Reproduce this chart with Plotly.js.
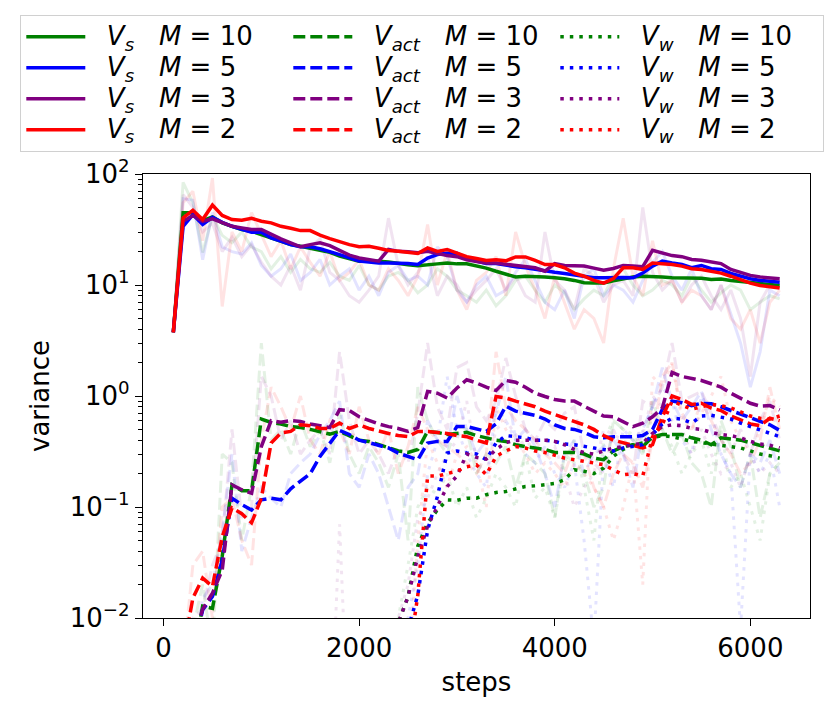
<!DOCTYPE html>
<html>
<head>
<meta charset="utf-8">
<script src="https://cdn.plot.ly/plotly-3.0.1.min.js"></script>
<style>
  html, body { margin: 0; padding: 0; background: #fff; }
  #chart { width: 831px; height: 717px; }
</style>
</head>
<body>
<div id="chart"></div>
<script>
// training steps where the variances were logged
const steps = [
  100, 200, 300, 400, 500, 600, 700, 800, 900, 1000,
  1100, 1200, 1300, 1400, 1500, 1600, 1700, 1800, 1900, 2000,
  2100, 2200, 2300, 2400, 2500, 2600, 2700, 2800, 2900, 3000,
  3100, 3200, 3300, 3400, 3500, 3600, 3700, 3800, 3900, 4000,
  4100, 4200, 4300, 4400, 4500, 4600, 4700, 4800, 4900, 5000,
  5100, 5200, 5300, 5400, 5500, 5600, 5700, 5800, 5900, 6000,
  6100, 6200, 6300
];

// ---- smoothed V_s ----
const vsM10 = [
  3.75, 44.7, 44.7, 38.1, 41.1, 36.3, 33.8, 31.6, 30.5, 28.5,
  26.6, 24.8, 23.1, 22.3, 21.4, 20.5, 19.7, 18.2, 17.3, 16.4,
  16.4, 16.4, 16.1, 15.5, 15.2, 14.9, 15.3, 15.5, 15.8, 15.5,
  15.5, 14.8, 14.2, 13.3, 12.5, 11.8, 12.0, 12.0, 11.8, 11.6,
  11.4, 11.0, 10.5, 10.4, 10.4, 10.9, 11.3, 11.8, 12.0, 12.0,
  11.8, 11.6, 11.6, 11.6, 11.5, 11.2, 11.3, 11.0, 10.8, 10.6,
  10.3, 10.1, 9.9
];
const vsM5 = [
  3.75, 33.8, 43.1, 35.1, 40.8, 36.7, 33.8, 31.6, 29.9, 29.9,
  26.6, 24.8, 23.1, 22.1, 22.1, 21.2, 20.1, 18.8, 17.6, 16.4,
  16.1, 15.8, 15.8, 15.8, 15.6, 15.3, 17.5, 18.8, 19.3, 19.3,
  17.5, 16.4, 15.6, 15.6, 15.0, 14.6, 14.3, 13.8, 13.5, 13.0,
  12.7, 12.3, 12.0, 11.6, 11.6, 11.7, 11.7, 11.6, 12.8, 14.8,
  16.4, 15.8, 15.3, 14.3, 15.0, 14.0, 13.8, 12.7, 12.0, 11.4,
  11.0, 10.8, 10.6
];
const vsM3 = [
  3.75, 37.5, 42.3, 37.5, 39.4, 36.3, 33.8, 32.7, 31.6, 31.6,
  28.5, 26.0, 24.0, 22.1, 23.1, 24.0, 22.6, 20.5, 18.6, 17.5,
  17.0, 16.4, 20.9, 20.1, 19.9, 19.5, 20.1, 19.2, 18.4, 18.0,
  16.9, 16.3, 15.8, 15.8, 15.4, 15.0, 14.6, 14.3, 13.3, 15.6,
  15.0, 14.8, 14.8, 14.2, 13.6, 14.1, 15.0, 14.8, 14.6, 20.5,
  19.5, 18.4, 18.0, 17.0, 16.7, 16.0, 15.6, 13.8, 13.0, 12.2,
  11.8, 11.5, 11.4
];
const vsM2 = [
  3.75, 40.3, 47.2, 38.9, 52.4, 42.3, 38.9, 38.3, 39.9, 37.5,
  36.3, 33.8, 32.4, 30.9, 30.9, 28.1, 26.2, 24.5, 23.1, 22.1,
  22.3, 21.4, 20.5, 20.1, 19.7, 19.2, 21.6, 20.1, 20.9, 19.5,
  18.0, 17.3, 16.6, 16.9, 16.5, 17.9, 17.9, 16.7, 15.3, 15.3,
  14.3, 12.8, 12.0, 11.0, 10.4, 11.4, 14.3, 14.3, 13.8, 15.8,
  15.6, 15.3, 14.8, 14.0, 13.8, 13.3, 12.8, 12.0, 11.2, 10.4,
  9.9, 9.6, 9.4
];

// ---- smoothed V_act ----
const vactM10 = [
  0.002, 0.003, 0.004, 0.0128, 0.0122, 0.036, 0.158, 0.14, 0.14, 0.62,
  0.578, 0.56, 0.53, 0.52, 0.50, 0.48, 0.454, 0.48, 0.44, 0.40,
  0.39, 0.364, 0.34, 0.32, 0.31, 0.33, 0.48, 0.47, 0.45, 0.46,
  0.47, 0.44, 0.42, 0.40, 0.39, 0.364, 0.35, 0.34, 0.33, 0.31,
  0.31, 0.31, 0.30, 0.276, 0.267, 0.32, 0.35, 0.364, 0.35, 0.43,
  0.45, 0.45, 0.45, 0.42, 0.40, 0.364, 0.42, 0.41, 0.40, 0.38,
  0.36, 0.34, 0.32
];
const vactM5 = [
  0.002, 0.003, 0.005, 0.0118, 0.0156, 0.0334, 0.12, 0.105, 0.094, 0.116,
  0.12, 0.116, 0.146, 0.17, 0.20, 0.286, 0.377, 0.49, 0.45, 0.40,
  0.38, 0.36, 0.34, 0.306, 0.286, 0.267, 0.377, 0.39, 0.39, 0.53,
  0.53, 0.50, 0.48, 0.56, 0.81, 0.73, 0.70, 0.67, 0.62, 0.55,
  0.51, 0.50, 0.47, 0.43, 0.42, 0.43, 0.43, 0.43, 0.44, 0.50,
  0.76, 0.90, 0.87, 0.82, 0.86, 0.85, 0.80, 0.74, 0.68, 0.63,
  0.59, 0.55, 0.49
];
const vactM3 = [
  0.002, 0.003, 0.006, 0.012, 0.0167, 0.027, 0.158, 0.143, 0.133, 0.35,
  0.60, 0.58, 0.60, 0.59, 0.56, 0.54, 0.52, 0.753, 0.74, 0.65,
  0.60, 0.56, 0.53, 0.51, 0.48, 0.52, 1.10, 1.06, 0.96, 1.18,
  1.40, 1.31, 1.20, 1.12, 1.38, 1.33, 1.20, 1.06, 0.99, 0.93,
  0.90, 0.90, 0.81, 0.73, 0.66, 0.65, 0.59, 0.53, 0.57, 0.65,
  0.78, 1.63, 1.50, 1.45, 1.38, 1.29, 1.20, 1.06, 0.96, 0.86,
  0.81, 0.82, 0.75
];
const vactM2 = [
  0.002, 0.005, 0.0151, 0.0229, 0.0192, 0.054, 0.098, 0.087, 0.072, 0.12,
  0.377, 0.464, 0.48, 0.55, 0.54, 0.51, 0.51, 0.57, 0.51, 0.55,
  0.51, 0.48, 0.46, 0.44, 0.43, 0.48, 0.48, 0.47, 0.46, 0.44,
  0.43, 0.40, 0.377, 0.99, 0.96, 0.90, 0.85, 0.80, 0.73, 0.68,
  0.63, 0.59, 0.55, 0.50, 0.44, 0.40, 0.38, 0.364, 0.34, 0.364,
  0.65, 1.0, 0.93, 0.84, 0.86, 0.78, 0.74, 0.66, 0.61, 0.56,
  0.54, 0.63, 0.60
];

// ---- smoothed V_w (logged only from late steps; aligned to the last step) ----
const vwM10 = [
  0.002, 0.009, 0.0156, 0.0445, 0.072, 0.094, 0.116, 0.115, 0.12, 0.12,
  0.129, 0.135, 0.138, 0.145, 0.153, 0.155, 0.158, 0.163, 0.176, 0.217,
  0.21, 0.20, 0.224, 0.286, 0.33, 0.364, 0.377, 0.42, 0.44, 0.43,
  0.41, 0.39, 0.38, 0.37, 0.36, 0.35, 0.34, 0.32, 0.30, 0.29, 0.275
];
const vwM5 = [
  0.003, 0.008, 0.0161, 0.062, 0.124, 0.306, 0.32, 0.306, 0.30, 0.267,
  0.377, 0.44, 0.43, 0.42, 0.40, 0.40, 0.39, 0.37, 0.364, 0.35,
  0.34, 0.33, 0.32, 0.34, 0.35, 0.364, 0.45, 0.56, 0.63, 0.62,
  0.57, 0.66, 0.67, 0.65, 0.62, 0.57, 0.53, 0.49, 0.46, 0.43
];
const vwM3 = [
  0.002, 0.009, 0.0156, 0.0358, 0.067, 0.101, 0.153, 0.19, 0.30, 0.28,
  0.27, 0.33, 0.38, 0.40, 0.40, 0.40, 0.40, 0.39, 0.364, 0.33,
  0.31, 0.30, 0.32, 0.34, 0.35, 0.36, 0.377, 0.46, 0.53, 0.55,
  0.54, 0.51, 0.50, 0.47, 0.45, 0.44, 0.42, 0.39, 0.37, 0.36, 0.34
];
const vwM2 = [
  0.004, 0.016, 0.19, 0.19, 0.20, 0.21, 0.23, 0.24, 0.195, 0.286,
  0.32, 0.35, 0.34, 0.32, 0.31, 0.29, 0.276, 0.267, 0.26, 0.249,
  0.24, 0.217, 0.195, 0.20, 0.19, 0.43, 0.55, 0.90, 0.82, 0.76,
  0.80, 0.84, 0.82, 0.78, 0.72, 0.66, 0.63, 0.62, 0.66
];

// ---- raw (unsmoothed) values, drawn faintly ----
const rawVsM10 = [
  3.75, 84, 55, 19.6, 42, 28, 24, 30, 22, 20,
  14, 18, 13, 17, 14, 13, 16, 12, 11, 15,
  10, 9, 12, 13, 11, 8.5, 10, 14, 12, 9,
  8, 7, 9, 6.5, 8, 11, 12, 9, 7, 10,
  8.5, 6, 7.5, 9, 8, 12, 14, 10, 8, 9,
  11, 10, 8, 12, 9, 7, 8.5, 10, 9, 6, 7, 8, 7.5
];
const rawVsM5 = [
  3.75, 60, 58, 16.9, 45, 22, 20, 19, 24, 15,
  12, 14, 19, 11, 13, 17, 10, 12, 14, 9,
  12, 8, 13, 15, 11, 12, 10, 22, 18, 9,
  7, 10, 12, 8, 9, 13, 17, 11, 7, 6,
  9, 5, 12, 14, 8, 10, 9, 7, 11, 16,
  20, 12, 9, 14, 8, 6, 10, 5.5, 3, 1.2, 2.5, 9, 8
];
const rawVsM3 = [
  3.75, 65, 50, 30, 36, 20, 27, 18, 23, 16,
  12, 10, 15, 9, 22, 26, 13, 11, 8, 7,
  9, 12, 40, 15, 10, 13, 18, 8, 12, 10,
  7, 9, 11, 14, 9, 12, 8, 7, 30, 11,
  9, 6, 14, 12, 7, 10, 11, 8, 50, 13,
  9, 11, 7, 10, 12, 8, 6, 9, 5, 1.5, 7, 10, 11
];
const rawVsM2 = [
  3.75, 55, 70, 25, 92, 6.4, 30, 20, 45, 28,
  18, 25, 14, 22, 16, 12, 20, 11, 13, 17,
  10, 9, 14, 11, 8, 12, 35, 10, 20, 9,
  6, 11, 13, 18, 8, 30, 15, 9, 5, 12,
  7, 4, 6, 5, 3, 14, 40, 12, 8, 25,
  10, 11, 7, 9, 8, 6, 10, 5, 4, 6, 3, 7, 9
];
const rawVactM10 = [
  0.001, 0.002, 0.008, 0.02, 0.005, 0.3, 0.25, 0.05, 0.15, 3.0,
  0.4, 0.5, 0.3, 0.6, 0.35, 0.5, 0.25, 0.7, 0.3, 0.2,
  0.35, 0.25, 0.15, 0.3, 0.05, 1.2, 0.6, 0.4, 0.3, 0.55,
  0.5, 0.2, 0.3, 0.25, 0.35, 0.15, 0.3, 0.25, 0.2, 0.08,
  0.3, 0.25, 0.2, 0.1, 0.15, 0.6, 0.5, 0.4, 0.3, 0.9,
  0.5, 0.3, 0.45, 0.25, 0.2, 0.1, 0.6, 0.35, 0.15, 0.3, 0.08, 0.2, 0.25
];
const rawVactM5 = [
  0.001, 0.002, 0.004, 0.015, 0.02, 0.06, 0.3, 0.04, 0.08, 0.15,
  0.12, 0.1, 0.2, 0.25, 0.3, 0.45, 0.6, 0.9, 0.2, 0.15,
  0.3, 0.2, 0.1, 0.05, 0.15, 0.2, 0.6, 0.4, 0.35, 1.0,
  0.5, 0.3, 0.4, 0.7, 1.5, 0.4, 0.5, 0.35, 0.2, 0.1,
  0.3, 0.4, 0.2, 0.3, 0.35, 0.4, 0.3, 0.15, 0.5, 0.8,
  1.8, 0.9, 0.6, 0.8, 1.1, 0.5, 0.3, 0.2, 0.15, 0.3, 0.25, 0.4, 0.2
];
const rawVactM3 = [
  0.001, 0.002, 0.01, 0.012, 0.03, 0.05, 0.5, 0.08, 0.1, 1.5,
  1.0, 0.4, 0.6, 0.3, 0.4, 0.5, 0.3, 2.5, 0.6, 0.3,
  0.4, 0.3, 0.2, 0.35, 0.25, 0.7, 3.0, 0.8, 0.5, 1.8,
  2.0, 0.8, 0.6, 0.9, 2.2, 1.0, 0.5, 0.4, 0.6, 0.5,
  0.7, 0.8, 0.3, 0.25, 0.2, 0.5, 0.3, 0.2, 0.9, 0.8,
  1.2, 3.0, 0.9, 1.0, 1.1, 0.7, 0.4, 0.3, 0.5, 0.3, 0.6, 0.9, 0.4
];
const rawVactM2 = [
  0.001, 0.004, 0.03, 0.04, 0.01, 0.1, 0.12, 0.05, 0.03, 0.4,
  1.2, 0.8, 0.5, 1.0, 0.4, 0.3, 0.6, 0.5, 0.3, 0.8,
  0.4, 0.3, 0.5, 0.2, 0.35, 0.8, 0.5, 0.4, 0.35, 0.3,
  0.25, 0.2, 0.3, 2.5, 0.8, 0.6, 0.5, 0.4, 0.3, 0.25,
  0.2, 0.35, 0.3, 0.15, 0.1, 0.2, 0.3, 0.25, 0.15, 0.4,
  1.5, 2.0, 0.7, 0.5, 0.9, 0.6, 0.4, 0.3, 0.2, 0.25, 0.4, 1.2, 0.5
];
const rawVwM10 = [
  0.002, 0.01, 0.03, 0.1, 0.15, 0.13, 0.2, 0.1, 0.15, 0.08,
  0.12, 0.2, 0.15, 0.1, 0.3, 0.12, 0.15, 0.08, 0.25, 0.4,
  0.15, 0.05, 0.4, 0.6, 0.5, 0.45, 0.3, 0.7, 0.5, 0.35,
  0.2, 0.3, 0.4, 0.2, 0.5, 0.15, 0.2, 0.1, 0.05, 0.2, 0.25
];
const rawVwM5 = [
  0.003, 0.01, 0.03, 0.2, 0.4, 1.5, 0.5, 0.3, 0.2, 0.15,
  0.8, 0.6, 0.4, 0.3, 0.25, 0.35, 0.2, 0.15, 0.25, 0.05,
  0.006, 0.3, 0.15, 0.5, 0.4, 0.5, 0.8, 1.2, 0.9, 0.4,
  0.3, 1.0, 0.7, 0.3, 0.2, 0.008, 0.3, 0.2, 0.3, 0.1
];
const rawVwM3 = [
  0.0005, 0.07, 0.0005, 0.0005, 0.0005, 0.0008,
  0.003, 0.01, 0.02, 0.08, 0.12, 0.2, 0.3, 0.4, 0.9, 0.25,
  0.2, 0.5, 0.6, 0.45, 0.35, 0.4, 0.3, 0.35, 0.2, 0.1,
  0.15, 0.2, 0.5, 0.45, 0.4, 0.35, 0.45, 1.0, 0.8, 0.6,
  0.5, 0.3, 0.5, 0.3, 0.2, 0.25, 0.15, 0.3, 0.2, 0.25, 0.2
];
const rawVwM2 = [
  0.003, 0.05, 0.4, 0.25, 0.15, 0.3, 0.35, 0.25, 0.1, 0.8,
  0.5, 0.4, 0.3, 0.2, 0.25, 0.2, 0.15, 0.25, 0.2, 0.15,
  0.1, 0.05, 0.1, 0.25, 0.02, 1.5, 1.2, 2.0, 0.6, 0.5,
  0.7, 1.0, 1.5, 0.6, 0.4, 0.3, 0.5, 1.0, 0.8
];

const yTickVals = [0.01, 0.1, 1, 10, 100];
const yTickText = ['10<sup>\u22122</sup>', '10<sup>\u22121</sup>', '10<sup>0</sup>', '10<sup>1</sup>', '10<sup>2</sup>'];
const xTickVals = [0, 2000, 4000, 6000];

// every series ends at the last logged step
function alignX(arr) {
    return steps.slice(steps.length - arr.length);
}

function fade(hex, a) {
    const n = parseInt(hex.slice(1), 16);
    return `rgba(${(n >> 16) & 255},${(n >> 8) & 255},${n & 255},${a})`;
}

const groups = [
    { m: '10', color: '#008000', vs: vsM10, vact: vactM10, vw: vwM10, rawVs: rawVsM10, rawVact: rawVactM10, rawVw: rawVwM10 },
    { m: '5',  color: '#0000ff', vs: vsM5,  vact: vactM5,  vw: vwM5,  rawVs: rawVsM5,  rawVact: rawVactM5,  rawVw: rawVwM5 },
    { m: '3',  color: '#800080', vs: vsM3,  vact: vactM3,  vw: vwM3,  rawVs: rawVsM3,  rawVact: rawVactM3,  rawVw: rawVwM3 },
    { m: '2',  color: '#ff0000', vs: vsM2,  vact: vactM2,  vw: vwM2,  rawVs: rawVsM2,  rawVact: rawVactM2,  rawVw: rawVwM2 }
];

const kinds = [
    { key: 'vs',   raw: 'rawVs',   label: '<i>V</i><sub><i>s</i></sub>',   dash: 'solid' },
    { key: 'vact', raw: 'rawVact', label: '<i>V</i><sub><i>act</i></sub>', dash: '12px,5px' },
    { key: 'vw',   raw: 'rawVw',   label: '<i>V</i><sub><i>w</i></sub>',   dash: '3.5px,6px' }
];

const NB = '\u00a0';
const traces = [];

// faint raw curves underneath
kinds.forEach(k => {
    groups.forEach(g => {
        const y = g[k.raw];
        traces.push({
            type: 'scatter', mode: 'lines',
            x: alignX(y), y: y,
            line: { color: fade(g.color, 0.11), width: 3, dash: k.dash },
            showlegend: false, hoverinfo: 'skip'
        });
    });
});

// smoothed curves on top; legend is row-major so it reads like matplotlib's ncol=3
// (text is drawn a bit larger than legend.font so the rows stay tight)
kinds.forEach((k, ki) => {
    groups.forEach((g, gi) => {
        const y = g[k.key];
        traces.push({
            type: 'scatter', mode: 'lines',
            x: alignX(y), y: y,
            name: '<span style="font-size:26px">' + NB + NB + k.label + NB + NB + NB +
                  '<i>M</i>' + NB + '=' + NB + g.m + '</span>',
            legendrank: gi * 3 + ki + 1,
            line: { color: g.color, width: 3.5, dash: k.dash }
        });
    });
});

// minor log ticks 2..9 in each decade
const minorVals = [];
for (let d = -2; d < 2; d++) {
    for (let j = 2; j <= 9; j++) minorVals.push(j * Math.pow(10, d));
}

const layout = {
    width: 831,
    height: 717,
    paper_bgcolor: '#ffffff',
    plot_bgcolor: '#ffffff',
    font: { family: '"DejaVu Sans", sans-serif', color: '#000000', size: 26 },
    margin: { l: 143, r: 21, t: 174, b: 99 },
    showlegend: true,
    legend: {
        orientation: 'h',
        x: (20 - 143) / 667,
        y: (618 - 15) / 444,
        xanchor: 'left',
        yanchor: 'top',
        bgcolor: '#ffffff',
        bordercolor: '#d0d0d0',
        borderwidth: 1.3,
        font: { family: '"DejaVu Sans", sans-serif', size: 21.5, color: '#000000' },
        entrywidth: 193,
        entrywidthmode: 'pixels',
        itemwidth: 59,
        traceorder: 'normal'
    },
    xaxis: {
        range: [-210, 6610],
        tickmode: 'array',
        tickvals: xTickVals,
        ticks: 'outside',
        ticklen: 7,
        tickwidth: 1.3,
        tickcolor: '#000000',
        tickfont: { size: 26 },
        showline: true,
        linecolor: '#000000',
        linewidth: 1.3,
        mirror: true,
        showgrid: false,
        zeroline: false,
        title: { text: 'steps', font: { size: 26 }, standoff: 10 }
    },
    yaxis: {
        type: 'log',
        range: [-2, 2],
        tickmode: 'array',
        tickvals: yTickVals,
        ticktext: yTickText,
        ticks: 'outside',
        ticklen: 7,
        tickwidth: 1.3,
        tickcolor: '#000000',
        tickfont: { size: 26 },
        minor: { tickmode: 'array', tickvals: minorVals, ticks: 'outside', ticklen: 4, tickwidth: 1, tickcolor: '#000000', showgrid: false },
        showline: true,
        linecolor: '#000000',
        linewidth: 1.3,
        mirror: true,
        showgrid: false,
        zeroline: false,
        title: { text: 'variance', font: { size: 26 }, standoff: 12 }
    }
};

Plotly.newPlot('chart', traces, layout, { displayModeBar: false, responsive: false });
</script>
</body>
</html>
